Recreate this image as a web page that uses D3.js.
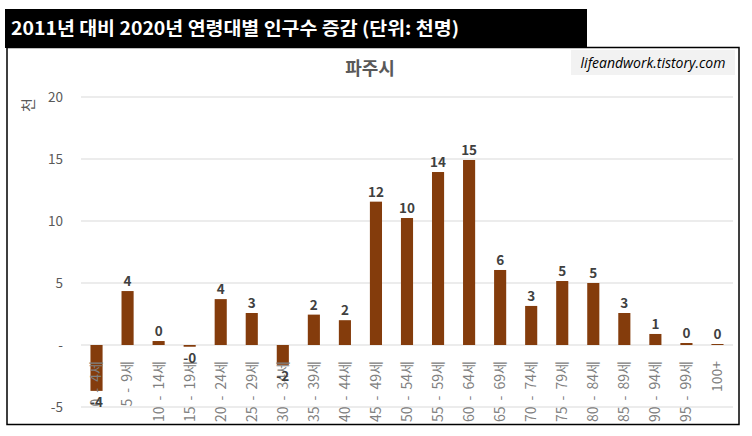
<!DOCTYPE html>
<html><head><meta charset="utf-8">
<script src="https://cdn.jsdelivr.net/npm/d3@7"></script>
<style>body{margin:0;background:#fff;}svg{display:block;font-family:"Noto Sans CJK KR","Noto Sans",sans-serif;}</style>
</head><body>
<svg id="c" width="752" height="436"></svg>
<script>
const categories = ["0 - 4세","5 - 9세","10 - 14세","15 - 19세","20 - 24세","25 - 29세","30 - 34세","35 - 39세","40 - 44세","45 - 49세","50 - 54세","55 - 59세","60 - 64세","65 - 69세","70 - 74세","75 - 79세","80 - 84세","85 - 89세","90 - 94세","95 - 99세","100+"];
const values = [-3.7, 4.35, 0.32, -0.14, 3.7, 2.58, -1.6, 2.45, 2.0, 11.56, 10.24, 13.95, 14.92, 6.05, 3.15, 5.16, 5.0, 2.58, 0.89, 0.16, 0.08];
const yTicks = [-5, 0, 5, 10, 15, 20];
const mainTitle = "2011년 대비 2020년 연령대별 인구수 증감 (단위: 천명)";
const chartTitle = "파주시";
const yAxisTitle = "천";
const watermark = "lifeandwork.tistory.com";

const svg = d3.select("#c");
// border
svg.append("rect").attr("x",7).attr("y",47.5).attr("width",732).attr("height",377)
  .attr("fill","#fff").attr("stroke","#000").attr("stroke-width",1.5);
// title bar
svg.append("rect").attr("x",5).attr("y",9).attr("width",582).attr("height",39).attr("fill","#000");
svg.append("text").attr("x",11).attr("y",35).attr("fill","#fff").attr("font-size",18).attr("font-weight","bold")
  .attr("textLength",448).attr("lengthAdjust","spacingAndGlyphs").text(mainTitle);
// watermark
svg.append("rect").attr("x",571).attr("y",50).attr("width",164).attr("height",25).attr("fill","#f2f2f2");
svg.append("text").attr("x",653).attr("y",67.5).attr("text-anchor","middle").attr("font-size",14)
  .attr("font-style","italic").attr("fill","#000").attr("font-family","'Open Sans','DejaVu Sans',sans-serif").text(watermark);
// chart title
svg.append("text").attr("x",370).attr("y",75).attr("text-anchor","middle").attr("font-size",18)
  .attr("font-weight","bold").attr("fill","#595959").text(chartTitle);

const x = d3.scaleBand().domain(categories).range([81, 733]).paddingInner(0.61).paddingOuter(0.305);
const y = d3.scaleLinear().domain([-5, 20]).range([407, 97]);

// gridlines
svg.append("g").selectAll("line").data(yTicks).join("line")
  .attr("x1",81).attr("x2",733).attr("y1",d=>y(d)).attr("y2",d=>y(d))
  .attr("stroke","#d9d9d9").attr("stroke-width",1);

// y axis labels
const yAxis = d3.axisLeft(y).tickValues(yTicks).tickSize(0).tickPadding(0)
  .tickFormat(d => d === 0 ? "-" : d3.format("d")(d).replace("−","-"));
const ga = svg.append("g").attr("transform","translate(63,0)").call(yAxis);
ga.select(".domain").remove();
ga.selectAll("text").attr("font-size",13.5).attr("fill","#595959").attr("font-family","'Noto Sans CJK KR',sans-serif");

// y axis title
svg.append("text").attr("transform","translate(29,105) rotate(-90)").attr("text-anchor","middle")
  .attr("dy","0.35em").attr("font-size",15).attr("fill","#595959").text(yAxisTitle);

// bars
svg.append("g").selectAll("rect").data(values).join("rect")
  .attr("x",(d,i)=>x(categories[i])).attr("width",x.bandwidth())
  .attr("y",d=>y(Math.max(0,d))).attr("height",d=>Math.abs(y(d)-y(0)))
  .attr("fill","#843c0c");

// x labels
svg.append("g").selectAll("text").data(categories).join("text")
  .attr("transform",d=>`translate(${x(d)+x.bandwidth()/2},361) rotate(-90)`)
  .attr("text-anchor","end").attr("dy","0.35em").attr("font-size",14).attr("word-spacing",3)
  .attr("fill","#808080").text(d=>d);

// data labels
const fmt = v => (v < 0 ? "-" : "") + Math.abs(Math.round(v));
svg.append("g").selectAll("text").data(values).join("text")
  .attr("x",(d,i)=>x(categories[i])+x.bandwidth()/2)
  .attr("y",d=> d>=0 ? y(d)-5 : y(d)+16)
  .attr("text-anchor","middle").attr("font-size",13.5).attr("font-weight","bold").attr("fill","#404040")
  .text(fmt);
</script>
</body></html>
